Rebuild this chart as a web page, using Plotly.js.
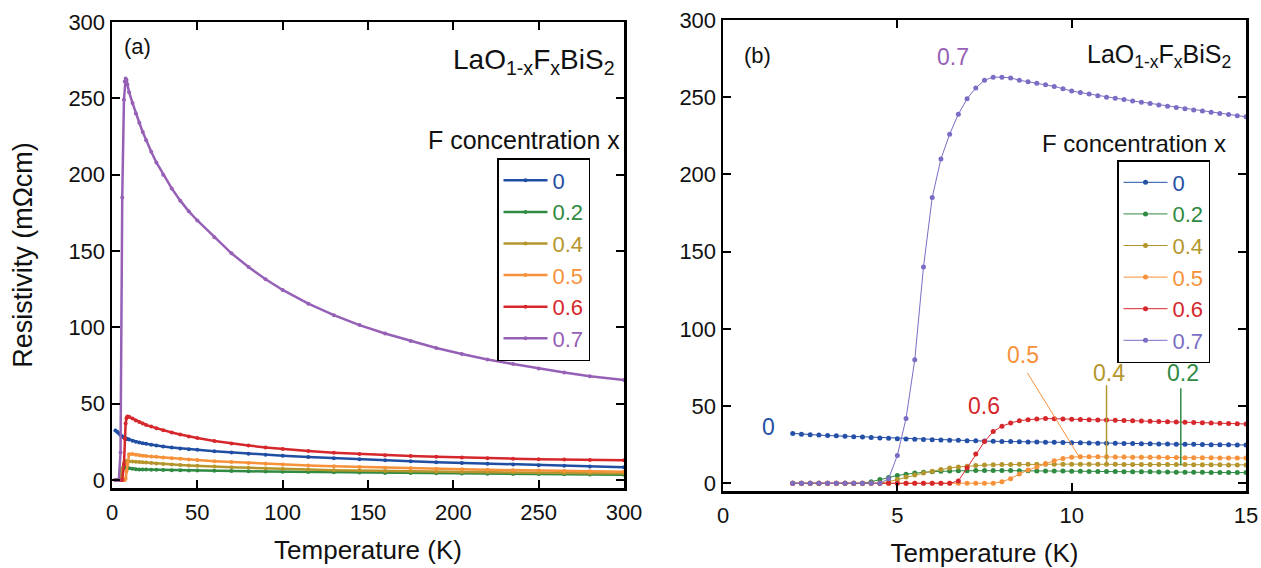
<!DOCTYPE html>
<html>
<head>
<meta charset="utf-8">
<script src="https://cdn.plot.ly/plotly-3.0.1.min.js"></script>
<style>
  html, body { margin: 0; padding: 0; background: #fff; }
  #chart { width: 1261px; height: 568px; }
</style>
</head>
<body>
<div id="chart"></div>
<script>
// LaO1-xFxBiS2 resistivity vs temperature for several F concentrations x.

// Panel (a): full temperature range, 2-300 K
const tempA = [2, 3, 4, 5, 6, 7, 7.5, 8, 8.5, 9, 10, 12, 14, 16, 18, 20, 23, 26, 30, 35, 40,
               45, 50, 60, 70, 80, 90, 100, 115, 130, 145, 160, 175, 190, 205, 220, 235, 250, 265, 280, 300];
const rhoA_x0 = [32.5, 31.6, 30.6, 29.3, 28.5, 27.9, 27.6, 27.3, 27.1, 26.9, 26.5, 25.8, 25.1, 24.6, 24.1, 23.7, 23.1, 22.6, 22.0, 21.3,
                 20.7, 20.2, 19.8, 18.9, 18.1, 17.3, 16.6, 16.0, 15.1, 14.3, 13.6, 12.9, 12.3, 11.7, 11.2, 10.7, 10.2, 9.7, 9.3, 8.9, 8.4];
const rhoA_x02 = [0, 0, 0, 5.0, 7.5, 8.1, 8.2, 8.2, 8.1, 8.0, 7.8, 7.4, 7.1, 6.95, 6.9, 6.85, 6.8, 6.7, 6.6, 6.5,
                  6.4, 6.3, 6.2, 6.05, 5.9, 5.75, 5.6, 5.5, 5.3, 5.1, 4.9, 4.7, 4.55, 4.4, 4.25, 4.1, 4.0, 3.9, 3.8, 3.7, 3.55];
const rhoA_x04 = [0, 0, 0, 2.5, 7.8, 11.1, 11.8, 12.1, 12.3, 12.4, 12.4, 12.2, 12.0, 11.9, 11.7, 11.5, 11.2, 10.9, 10.6, 10.2,
                  9.9, 9.6, 9.3, 8.8, 8.4, 8.0, 7.6, 7.3, 6.9, 6.5, 6.2, 5.9, 5.7, 5.5, 5.3, 5.1, 4.9, 4.8, 4.6, 4.5, 4.3];
const rhoA_x05 = [0, 0, 0, 0, 0, 0, 0, 1.0, 6.0, 10.6, 16.9, 17.0, 16.6, 16.2, 16.0, 15.8, 15.5, 15.2, 14.8, 14.3,
                  13.9, 13.5, 13.1, 12.4, 11.8, 11.2, 10.7, 10.2, 9.6, 9.0, 8.5, 8.1, 7.7, 7.3, 7.0, 6.7, 6.4, 6.2, 6.0, 5.8, 5.5];
const rhoA_x06 = [0, 0, 0, 0, 0, 10, 27, 37, 40.5, 41.7, 41.4, 40.3, 39.0, 38.0, 37.0, 36.1, 35.0, 33.9, 32.6, 31.1,
                  29.8, 28.6, 27.5, 25.6, 24.0, 22.6, 21.4, 20.3, 19.0, 17.9, 17.0, 16.3, 15.7, 15.2, 14.7, 14.3, 14.0, 13.7, 13.4, 13.2, 13.0];
const rhoA_x07 = [0, 0, 0, 18, 185, 249, 261, 263, 262, 259, 254, 247, 240, 234, 228, 222.5, 215, 208, 200, 191,
                  183, 176, 170, 159, 148.5, 139.5, 131.5, 124.5, 115.5, 108, 101.5, 96, 91, 86.5, 82.5, 79, 76, 73, 70.5, 68, 65.5];

// Panel (b): low-temperature region, 2-15 K
const tempB = [2.0, 2.25, 2.5, 2.75, 3.0, 3.25, 3.5, 3.75, 4.0, 4.25, 4.5, 4.75, 5.0, 5.25, 5.5, 5.75, 6.0, 6.25,
               6.5, 6.75, 7.0, 7.25, 7.5, 7.75, 8.0, 8.25, 8.5, 8.75, 9.0, 9.25, 9.5, 9.75, 10.0, 10.25, 10.5, 10.75,
               11.0, 11.25, 11.5, 11.75, 12.0, 12.25, 12.5, 12.75, 13.0, 13.25, 13.5, 13.75, 14.0, 14.25, 14.5, 14.75, 15.0];
const rhoB_x0 = [32.3, 31.8, 31.5, 31.2, 30.9, 30.7, 30.4, 30.2, 29.9, 29.6, 29.4, 29.1, 28.9, 28.7, 28.5, 28.4, 28.2, 28.1,
                 27.9, 27.8, 27.6, 27.5, 27.3, 27.2, 27.1, 27.0, 26.9, 26.8, 26.7, 26.6, 26.5, 26.4, 26.3, 26.2, 26.1, 26.0,
                 26.0, 25.9, 25.8, 25.7, 25.6, 25.6, 25.5, 25.4, 25.3, 25.3, 25.2, 25.1, 25.0, 25.0, 24.9, 24.8, 24.8];
const rhoB_x02 = [0, 0, 0, 0, 0, 0, 0, 0, 0, 1.0, 2.5, 3.8, 5.0, 5.9, 6.6, 7.1, 7.5, 7.8,
                  8.0, 8.1, 8.1, 8.2, 8.2, 8.2, 8.2, 8.2, 8.1, 8.1, 8.0, 8.0, 7.9, 7.9, 7.8, 7.8, 7.7, 7.7,
                  7.6, 7.6, 7.5, 7.5, 7.4, 7.4, 7.3, 7.3, 7.2, 7.2, 7.1, 7.1, 7.0, 7.0, 7.0, 6.9, 6.9];
const rhoB_x04 = [0, 0, 0, 0, 0, 0, 0, 0, 0, 0, 0, 1.0, 2.5, 4.0, 5.4, 6.6, 7.8, 8.9,
                  9.9, 10.6, 11.1, 11.5, 11.8, 12.0, 12.1, 12.2, 12.3, 12.4, 12.4, 12.4, 12.4, 12.4, 12.4, 12.3, 12.3, 12.3,
                  12.3, 12.3, 12.2, 12.2, 12.2, 12.2, 12.1, 12.1, 12.1, 12.1, 12.0, 12.0, 12.0, 12.0, 11.9, 11.9, 11.9];
const rhoB_x05 = [0, 0, 0, 0, 0, 0, 0, 0, 0, 0, 0, 0, 0, 0, 0, 0, 0, 0,
                  0, 0, 0, 0, 0, 0, 1.0, 3.0, 6.0, 8.6, 10.6, 12.8, 14.6, 16.0, 16.9, 17.2, 17.2, 17.1,
                  17.1, 17.0, 17.0, 16.9, 16.9, 16.8, 16.8, 16.7, 16.7, 16.6, 16.6, 16.5, 16.5, 16.4, 16.4, 16.3, 16.3];
const rhoB_x06 = [0, 0, 0, 0, 0, 0, 0, 0, 0, 0, 0, 0, 0, 0, 0, 0, 0, 0,
                  0, 1.5, 10, 19, 27, 33.5, 37, 39, 40.5, 41.2, 41.7, 41.9, 41.8, 41.6, 41.4, 41.3, 41.2, 41.0,
                  40.9, 40.8, 40.6, 40.5, 40.3, 40.2, 40.0, 39.9, 39.7, 39.5, 39.3, 39.2, 39.0, 38.8, 38.7, 38.5, 38.4];
const rhoB_x07 = [0, 0, 0, 0, 0, 0, 0, 0, 0, 0, 0, 3, 18, 42, 80, 140, 185, 210,
                  226, 239, 249, 256, 261, 263, 263, 262.5, 261, 260, 259, 258, 257, 255.5, 254, 253, 252, 251,
                  250, 249.3, 248.5, 247.6, 246.8, 246, 245, 244.2, 243.4, 242.6, 241.8, 241, 240.2, 239.5, 238.8, 238, 237.3];

const concLabels = ['0', '0.2', '0.4', '0.5', '0.6', '0.7'];
const colorsA = ['#1f4ea3', '#2f8a42', '#b5962c', '#f7913a', '#d6272c', '#9660b6'];
const colorsB = ['#2350a6', '#2f8a42', '#b5962c', '#f7913a', '#d6272c', '#7a6ec4'];

const seriesA = [rhoA_x0, rhoA_x02, rhoA_x04, rhoA_x05, rhoA_x06, rhoA_x07];
const seriesB = [rhoB_x0, rhoB_x02, rhoB_x04, rhoB_x05, rhoB_x06, rhoB_x07];

const W = 1261, H = 568;
const px = v => v / W;
const py = v => 1 - v / H;

const FONT = 'Liberation Sans, Arial, Helvetica, sans-serif';

const traces = [];
seriesA.forEach((ys, i) => {
  traces.push({
    x: tempA, y: ys, xaxis: 'x', yaxis: 'y', type: 'scatter', mode: 'lines+markers',
    name: '<span style="color:' + colorsA[i] + '">' + concLabels[i] + '</span>',
    line: { color: colorsA[i], width: 2.5 },
    marker: { color: colorsA[i], size: 4 },
    legend: 'legend', hoverinfo: 'skip'
  });
});
seriesB.forEach((ys, i) => {
  traces.push({
    x: tempB, y: ys, xaxis: 'x2', yaxis: 'y2', type: 'scatter', mode: 'lines+markers',
    name: '<span style="color:' + colorsB[i] + '">' + concLabels[i] + '</span>',
    line: { color: colorsB[i], width: 1 },
    marker: { color: colorsB[i], size: 5, symbol: 'circle' },
    legend: 'legend2', hoverinfo: 'skip'
  });
});

const axisCommon = {
  showline: true, linecolor: '#000', linewidth: 2.5, mirror: 'ticks',
  ticks: 'inside', ticklen: 8, tickwidth: 2, tickcolor: '#000',
  showgrid: false, zeroline: false,
  tickfont: { family: FONT, size: 22, color: '#111' }
};

const titleFont = { family: FONT, size: 26, color: '#111' };
const formula = 'LaO<sub>1-x</sub>F<sub>x</sub>BiS<sub>2</sub>';

const layout = {
  width: W, height: H,
  margin: { l: 0, r: 0, t: 0, b: 0 },
  paper_bgcolor: '#fff', plot_bgcolor: '#fff',
  font: { family: FONT, color: '#111' },
  showlegend: true,
  xaxis: Object.assign({}, axisCommon, {
    domain: [px(112), px(624)], range: [0, 300], anchor: 'y',
    tickvals: [0, 50, 100, 150, 200, 250, 300], ticklabelstandoff: 3,
    title: { text: 'Temperature (K)', font: titleFont, standoff: 17 }
  }),
  yaxis: Object.assign({}, axisCommon, {
    domain: [py(488), py(22)], range: [-5.2, 300], anchor: 'x',
    tickvals: [0, 50, 100, 150, 200, 250, 300],
    title: { text: 'Resistivity (mΩcm)', font: { family: FONT, size: 27, color: '#111' }, standoff: 28 }
  }),
  xaxis2: Object.assign({}, axisCommon, {
    domain: [px(723), px(1246)], range: [0, 15], anchor: 'y2',
    tickvals: [0, 5, 10, 15], ticklabelstandoff: 3,
    title: { text: 'Temperature (K)', font: titleFont, standoff: 17 }
  }),
  yaxis2: Object.assign({}, axisCommon, {
    domain: [py(491), py(20)], range: [-5, 300], anchor: 'x2',
    tickvals: [0, 50, 100, 150, 200, 250, 300]
  }),
  legend: {
    x: px(497), y: py(158), xanchor: 'left', yanchor: 'top',
    bgcolor: '#fff', bordercolor: '#000', borderwidth: 1.5,
    font: { family: FONT, size: 22 }, itemwidth: 44, tracegroupgap: 0
  },
  legend2: {
    x: px(1117), y: py(160), xanchor: 'left', yanchor: 'top',
    bgcolor: '#fff', bordercolor: '#000', borderwidth: 1.5,
    font: { family: FONT, size: 22 }, itemwidth: 44, tracegroupgap: 0
  },
  shapes: [
    // leader lines tying labels to the 0.5, 0.4 and 0.2 curves
    { type: 'line', xref: 'x2', yref: 'y2', x0: 8.73, y0: 71.5, x1: 10.2, y1: 17.7, line: { color: '#f7913a', width: 1 } },
    { type: 'line', xref: 'x2', yref: 'y2', x0: 11.0, y0: 63.5, x1: 11.0, y1: 12.3, line: { color: '#b5962c', width: 1.5 } },
    { type: 'line', xref: 'x2', yref: 'y2', x0: 13.13, y0: 61.5, x1: 13.13, y1: 11.5, line: { color: '#2f8a42', width: 1.5 } }
  ],
  annotations: [
    { xref: 'paper', yref: 'paper', x: px(122), y: py(46), xanchor: 'left', yanchor: 'middle', showarrow: false,
      text: '(a)', font: { family: FONT, size: 22, color: '#111' } },
    { xref: 'paper', yref: 'paper', x: px(617), y: py(62), xanchor: 'right', yanchor: 'middle', showarrow: false,
      text: formula, font: { family: FONT, size: 28, color: '#111' } },
    { xref: 'paper', yref: 'paper', x: px(622), y: py(140), xanchor: 'right', yanchor: 'middle', showarrow: false,
      text: 'F concentration x', font: { family: FONT, size: 25, color: '#111' } },
    { xref: 'paper', yref: 'paper', x: px(742), y: py(56), xanchor: 'left', yanchor: 'middle', showarrow: false,
      text: '(b)', font: { family: FONT, size: 22, color: '#111' } },
    { xref: 'paper', yref: 'paper', x: px(1233), y: py(56), xanchor: 'right', yanchor: 'middle', showarrow: false,
      text: formula, font: { family: FONT, size: 25, color: '#111' } },
    { xref: 'paper', yref: 'paper', x: px(1228), y: py(143), xanchor: 'right', yanchor: 'middle', showarrow: false,
      text: 'F concentration x', font: { family: FONT, size: 24, color: '#111' } },
    { xref: 'x2', yref: 'y2', x: 6.6, y: 276, showarrow: false, text: '0.7', font: { family: FONT, size: 23, color: '#9660b6' } },
    { xref: 'x2', yref: 'y2', x: 1.3, y: 36.6, showarrow: false, text: '0', font: { family: FONT, size: 23, color: '#2350a6' } },
    { xref: 'x2', yref: 'y2', x: 7.48, y: 50, showarrow: false, text: '0.6', font: { family: FONT, size: 23, color: '#d6272c' } },
    { xref: 'x2', yref: 'y2', x: 8.6, y: 83, showarrow: false, text: '0.5', font: { family: FONT, size: 23, color: '#f7913a' } },
    { xref: 'x2', yref: 'y2', x: 11.07, y: 71.5, showarrow: false, text: '0.4', font: { family: FONT, size: 23, color: '#b5962c' } },
    { xref: 'x2', yref: 'y2', x: 13.2, y: 71.5, showarrow: false, text: '0.2', font: { family: FONT, size: 23, color: '#2f8a42' } }
  ]
};

Plotly.newPlot('chart', traces, layout, { displayModeBar: false, staticPlot: true });
</script>
</body>
</html>
